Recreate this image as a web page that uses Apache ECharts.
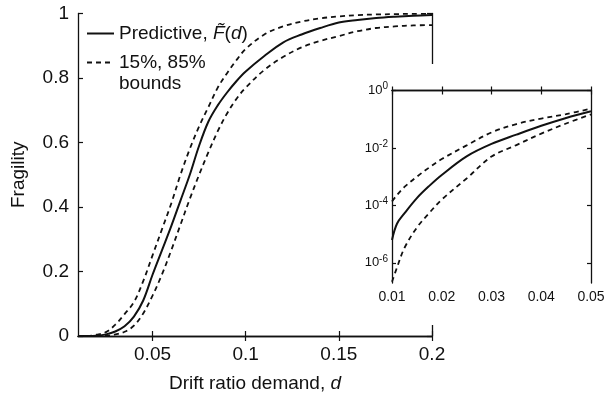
<!DOCTYPE html>
<html><head><meta charset="utf-8">
<script src="https://cdn.jsdelivr.net/npm/echarts@6/dist/echarts.min.js"></script>
<style>html,body{margin:0;padding:0;background:#fff}#c{width:605px;height:395px}</style>
</head><body><div id="c"></div>
<script>
// ---- main plot data (drift ratio d vs fragility) ----
const mainDrift      = [0.01,0.015,0.02,0.025,0.03,0.035,0.04,0.045,0.05,0.055,0.06,0.065,0.07,0.075,0.08,0.085,0.09,0.095,0.1,0.11,0.12,0.13,0.14,0.15,0.16,0.17,0.18,0.19,0.2];
const mainPredictive = [0,0,0.001,0.005,0.014,0.03,0.06,0.11,0.19,0.265,0.34,0.42,0.5,0.59,0.665,0.715,0.755,0.79,0.82,0.868,0.91,0.935,0.955,0.972,0.98,0.986,0.99,0.993,0.995];
const mainUpper      = [0,0.0001,0.004,0.012,0.035,0.068,0.105,0.17,0.25,0.33,0.41,0.5,0.58,0.65,0.71,0.77,0.815,0.855,0.89,0.935,0.96,0.975,0.985,0.991,0.995,0.997,0.998,0.999,0.999];
const mainLower      = [0,0,0.0002,0.001,0.005,0.013,0.032,0.07,0.125,0.19,0.265,0.345,0.425,0.5,0.57,0.635,0.69,0.735,0.77,0.825,0.865,0.895,0.915,0.93,0.945,0.955,0.96,0.963,0.964];
const mainXTicks = [0.05,0.1,0.15,0.2];
const mainYTicks = [0,0.2,0.4,0.6,0.8,1];

// ---- inset data (log scale) ----
const insetDrift      = [0.01,0.011,0.0125,0.015,0.0175,0.02,0.025,0.03,0.035,0.04,0.045,0.05];
const insetPredictive = [6.3e-6,2.3e-5,5.3e-5,1.8e-4,4.8e-4,1.15e-3,5.1e-3,0.0138,0.029,0.059,0.111,0.19];
const insetUpper      = [1.38e-4,2.3e-4,4.4e-4,1.0e-3,2.1e-3,4.1e-3,0.0123,0.0347,0.068,0.105,0.151,0.234];
const insetLower      = [2.2e-7,6.9e-7,3.3e-6,1.7e-5,5.5e-5,1.6e-4,8.7e-4,5.0e-3,0.0126,0.0316,0.071,0.148];
const insetXTicks = [0.01,0.02,0.03,0.04,0.05];
const insetYTicks = [1e-6,1e-4,1e-2,1];
const insetYMin = 2e-7;

const FONT = '"Liberation Sans", Arial, Helvetica, sans-serif';
const INK = '#111';
const FS = 19;
const pairs = (xs, ys) => xs.map((x, i) => [x, ys[i]]);
const logPairs = (xs, ys) => xs.map((x, i) => [x, Math.log10(ys[i])]);
const powLabel = v => '{b|10}{s|' + Math.round(v) + '}';

const axisLineStyle = {color: INK, width: 1.3};
const tickIn = {inside: true, length: 5, lineStyle: {color: INK, width: 1.2}};
const solidStyle = {color: INK, width: 2};
const dashStyle = {color: INK, width: 1.8, type: [5, 4]};

const chart = echarts.init(document.getElementById('c'), null, {renderer: 'canvas'});
const mkSeries = (name, ai, data, style, z) => ({
  name, type: 'line', xAxisIndex: ai, yAxisIndex: ai, data,
  showSymbol: false, symbol: 'none', smooth: 0.35, z,
  itemStyle: {color: INK}, lineStyle: style
});
chart.setOption({
  animation: false,
  backgroundColor: '#fff',
  textStyle: {fontFamily: FONT, color: INK},
  grid: [
    {left: 78, right: 173, top: 13.5, bottom: 59, containLabel: false, outerBoundsMode: 'none'},
    {left: 392, right: 14, top: 90.5, bottom: 112, containLabel: false, outerBoundsMode: 'none', z: 6}
  ],
  xAxis: [
    {gridIndex: 0, type: 'value', min: 0.01, max: 0.2, position: 'bottom',
     name: 'Drift ratio demand, {i|d}', nameLocation: 'middle', nameGap: 38,
     nameTextStyle: {fontSize: FS, color: INK, fontFamily: FONT,
       rich: {i: {fontStyle: 'italic', fontSize: FS, color: INK, fontFamily: FONT}}},
     axisLine: {lineStyle: axisLineStyle}, axisTick: Object.assign({customValues: mainXTicks}, tickIn),
     axisLabel: {customValues: mainXTicks, fontSize: FS, color: INK, margin: 9, fontFamily: FONT},
     splitLine: {show: false}},
    {gridIndex: 0, type: 'value', min: 0.01, max: 0.2, position: 'top',
     axisLine: {lineStyle: axisLineStyle}, axisTick: Object.assign({customValues: mainXTicks}, tickIn),
     axisLabel: {show: false}, splitLine: {show: false}},
    {gridIndex: 1, type: 'value', min: 0.01, max: 0.05, position: 'bottom', z: 7,
     axisLine: {lineStyle: axisLineStyle}, axisTick: Object.assign({customValues: insetXTicks}, tickIn, {length: 4}),
     axisLabel: {customValues: insetXTicks, fontSize: 14, color: INK, margin: 7, fontFamily: FONT},
     splitLine: {show: false}},
    {gridIndex: 1, type: 'value', min: 0.01, max: 0.05, position: 'top', z: 7,
     axisLine: {lineStyle: axisLineStyle}, axisTick: Object.assign({customValues: insetXTicks}, tickIn, {length: 4}),
     axisLabel: {show: false}, splitLine: {show: false}}
  ],
  yAxis: [
    {gridIndex: 0, type: 'value', min: 0, max: 1, interval: 0.2, position: 'left',
     name: 'Fragility', nameLocation: 'middle', nameGap: 50,
     nameTextStyle: {fontSize: FS, color: INK, fontFamily: FONT},
     axisLine: {show: true, lineStyle: axisLineStyle}, axisTick: Object.assign({show: true}, tickIn),
     axisLabel: {fontSize: FS, color: INK, margin: 9, fontFamily: FONT},
     splitLine: {show: false}},
    {gridIndex: 0, type: 'value', min: 0, max: 1, interval: 0.2, position: 'right',
     axisLine: {show: true, lineStyle: axisLineStyle}, axisTick: Object.assign({show: true}, tickIn),
     axisLabel: {show: false}, splitLine: {show: false}},
    {gridIndex: 1, type: 'value', min: Math.log10(insetYMin), max: 0, position: 'left', z: 7,
     axisLine: {show: true, lineStyle: axisLineStyle},
     axisTick: Object.assign({show: true, customValues: insetYTicks.map(Math.log10)}, tickIn, {length: 4}),
     axisLabel: {customValues: insetYTicks.map(Math.log10), formatter: powLabel, color: INK, margin: 4, fontFamily: FONT,
       rich: {b: {fontSize: 13, lineHeight: 18, color: INK, fontFamily: FONT},
              s: {fontSize: 10, lineHeight: 18, verticalAlign: 'top', color: INK, fontFamily: FONT}}},
     splitLine: {show: false}},
    {gridIndex: 1, type: 'value', min: Math.log10(insetYMin), max: 0, position: 'right', z: 7,
     axisLine: {show: true, lineStyle: axisLineStyle},
     axisTick: Object.assign({show: true, customValues: insetYTicks.map(Math.log10)}, tickIn, {length: 4}),
     axisLabel: {show: false}, splitLine: {show: false}}
  ],
  graphic: [
    {type: 'rect', z: 5, silent: true, shape: {x: 345, y: 64, width: 260, height: 261}, style: {fill: '#fff'}}
  ],
  legend: [
    {left: 86, top: 23, padding: 0, itemWidth: 27, itemHeight: 2, data: ['Predictive'],
     itemStyle: {opacity: 0},
     formatter: () => 'Predictive, {i|F\u0303}({i|d})',
     textStyle: {fontSize: FS, color: INK, fontFamily: FONT, lineHeight: 21,
       rich: {i: {fontStyle: 'italic', fontSize: FS, color: INK, fontFamily: FONT, lineHeight: 21}}}},
    {left: 86, top: 31, padding: 0, itemWidth: 27, itemHeight: 2, data: ['bounds'],
     itemStyle: {opacity: 0},
     formatter: () => '\n15%, 85%\nbounds',
     textStyle: {fontSize: FS, color: INK, fontFamily: FONT, lineHeight: 21}}
  ],
  series: [
    mkSeries('Predictive', 0, pairs(mainDrift, mainPredictive), solidStyle, 2),
    mkSeries('bounds', 0, pairs(mainDrift, mainUpper), dashStyle, 2),
    mkSeries('bounds', 0, pairs(mainDrift, mainLower), dashStyle, 2),
    mkSeries('Predictive', 2, logPairs(insetDrift, insetPredictive), solidStyle, 8),
    mkSeries('bounds', 2, logPairs(insetDrift, insetUpper), dashStyle, 8),
    mkSeries('bounds', 2, logPairs(insetDrift, insetLower), dashStyle, 8)
  ]
});
</script></body></html>
